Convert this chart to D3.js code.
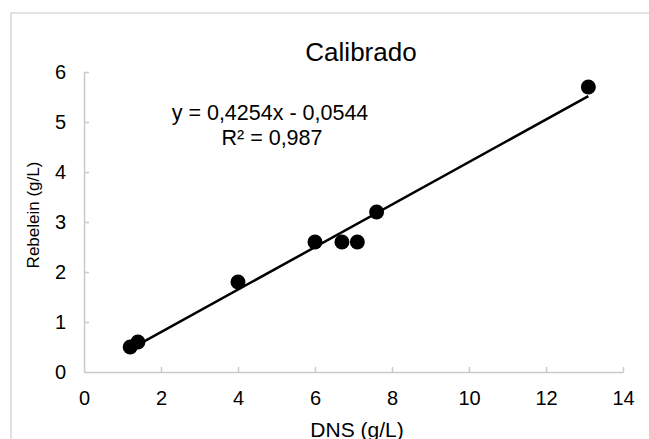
<!DOCTYPE html>
<html>
<head>
<meta charset="utf-8">
<script src="https://cdn.jsdelivr.net/npm/d3@7"></script>
<style>
  html, body { margin: 0; padding: 0; background: #fff; }
  svg { display: block; font-family: Arial, "Liberation Sans", sans-serif; }
</style>
</head>
<body>
<svg id="chart" width="649" height="439"></svg>
<script>
// ---- data ----
const dnsValues = [1.2, 1.4, 4.0, 6.0, 6.7, 7.1, 7.6, 13.1];
const rebeleinValues = [0.5, 0.6, 1.8, 2.6, 2.6, 2.6, 3.2, 5.7];
const xTicks = [0, 2, 4, 6, 8, 10, 12, 14];
const yTicks = [0, 1, 2, 3, 4, 5, 6];
const trendSlope = 0.4254;
const trendIntercept = -0.0544;
const equationLabel = "y = 0,4254x - 0,0544";
const r2Label = "R² = 0,987";
const chartTitle = "Calibrado";
const xAxisTitle = "DNS (g/L)";
const yAxisTitle = "Rebelein (g/L)";

const svg = d3.select("#chart");
const axisColor = "#c9c9c9";
const fontFam = "Arial, 'Liberation Sans', sans-serif";

// chart area border (extends beyond the viewport on right/bottom)
svg.append("rect")
  .attr("x", 11).attr("y", 13)
  .attr("width", 720).attr("height", 500)
  .attr("fill", "#fff")
  .attr("stroke", "#d9d9d9").attr("stroke-width", 1.5);

const plot = { left: 84, right: 623, top: 72, bottom: 372 };
const x = d3.scaleLinear().domain([0, 14]).range([plot.left, plot.right]);
const y = d3.scaleLinear().domain([0, 6]).range([plot.bottom, plot.top]);

// x axis
const xAxis = d3.axisBottom(x).tickValues(xTicks).tickSizeInner(-5).tickSizeOuter(0).tickPadding(19)
  .tickFormat(d3.format("d"));
const gx = svg.append("g").attr("transform", `translate(0,${plot.bottom})`).call(xAxis);
gx.select(".domain").attr("stroke", axisColor).attr("stroke-width", 1.5);
gx.selectAll(".tick line").attr("stroke", axisColor).attr("stroke-width", 1.5);
gx.selectAll(".tick text").attr("font-size", 20).attr("fill", "#000").attr("font-family", fontFam);
gx.selectAll(".tick").filter(d => d === 0).select("line").remove();

// y axis
const yAxis = d3.axisLeft(y).tickValues(yTicks).tickSizeInner(-5).tickSizeOuter(0).tickPadding(18)
  .tickFormat(d3.format("d"));
const gy = svg.append("g").attr("transform", `translate(${plot.left},0)`).call(yAxis);
gy.select(".domain").attr("stroke", axisColor).attr("stroke-width", 1.5);
gy.selectAll(".tick line").attr("stroke", axisColor).attr("stroke-width", 1.5);
gy.selectAll(".tick text").attr("font-size", 20).attr("fill", "#000").attr("font-family", fontFam);
gy.selectAll(".tick").filter(d => d === 0).select("line").remove();

// markers
svg.append("g").selectAll("circle")
  .data(dnsValues.map((d, i) => [d, rebeleinValues[i]]))
  .join("circle")
  .attr("cx", d => x(d[0]))
  .attr("cy", d => y(d[1]))
  .attr("r", 7.5)
  .attr("fill", "#000");

// trendline
const xMin = d3.min(dnsValues), xMax = d3.max(dnsValues);
svg.append("line")
  .attr("x1", x(xMin)).attr("y1", y(trendSlope * xMin + trendIntercept))
  .attr("x2", x(xMax)).attr("y2", y(trendSlope * xMax + trendIntercept))
  .attr("stroke", "#000").attr("stroke-width", 2.5);

// title
svg.append("text")
  .attr("x", 361).attr("y", 61)
  .attr("text-anchor", "middle")
  .attr("font-size", 26)
  .attr("fill", "#000")
  .text(chartTitle);

// equation
svg.append("text")
  .attr("x", 270).attr("y", 120)
  .attr("text-anchor", "middle")
  .attr("font-size", 21.5)
  .attr("fill", "#000")
  .text(equationLabel);
svg.append("text")
  .attr("x", 272).attr("y", 145)
  .attr("text-anchor", "middle")
  .attr("font-size", 21.5)
  .attr("fill", "#000")
  .text(r2Label);

// axis titles
svg.append("text")
  .attr("x", 357).attr("y", 437)
  .attr("text-anchor", "middle")
  .attr("font-size", 21)
  .attr("fill", "#000")
  .text(xAxisTitle);

svg.append("text")
  .attr("transform", `translate(39,215) rotate(-90)`)
  .attr("text-anchor", "middle")
  .attr("font-size", 17)
  .attr("fill", "#000")
  .text(yAxisTitle);
</script>
</body>
</html>
